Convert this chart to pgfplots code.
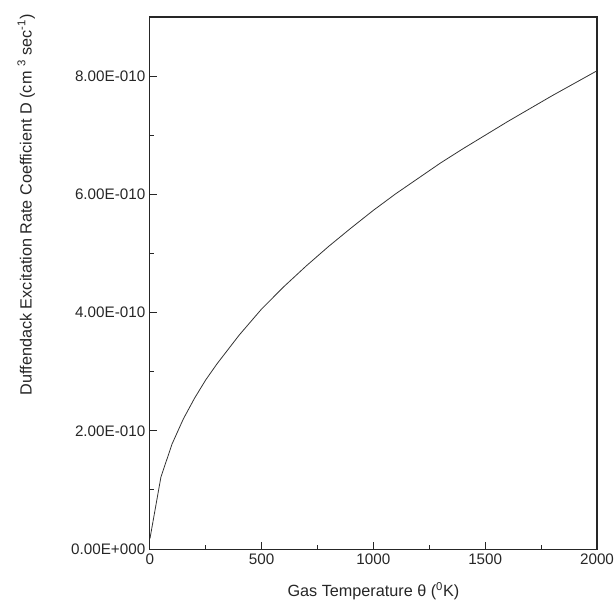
\documentclass[border=0pt]{standalone}
\usepackage{fontspec}
\setmainfont{Liberation Sans}
\usepackage{pgfplots}
\pgfplotsset{compat=1.18}
\begin{document}
\begin{tikzpicture}
\begin{axis}[
  name=ax,
  scale only axis,
  width=448bp, height=533bp,
  xmin=0, xmax=2000, ymin=0, ymax=9e-10,
  xtick={0,500,1000,1500,2000},
  xticklabels={0,500,1000,1500,2000},
  ytick={0,2e-10,4e-10,6e-10,8e-10},
  yticklabels={0.00E+000,2.00E-010,4.00E-010,6.00E-010,8.00E-010},
  scaled y ticks=false,
  minor x tick num=1, minor y tick num=1,
  xtick pos=bottom, ytick pos=left,
  tick align=inside,
  major tick length=7bp, minor tick length=4bp,
  axis line style={line width=1.1pt, black!85},
  tick style={line width=1pt, black!85},
  ticklabel style={font=\fontsize{15.3}{17}\selectfont, text=black!85},
  yticklabel style={xshift=-1bp},
  xticklabel style={yshift=-1bp},
  xlabel={Gas Temperature θ (\textsuperscript{0}K)},
  ylabel={Duffendack Excitation Rate Coefficient D (cm \textsuperscript{3} sec\textsuperscript{-1})},
  label style={font=\fontsize{16.3}{18}\selectfont, text=black!85},
  xlabel style={at={(axis description cs:0.5,0)}, anchor=north, yshift=-30bp},
  ylabel style={at={(axis description cs:-0.276,0.647)}, anchor=center},
]
\addplot[line width=0.8pt, black!80] coordinates {
(1,0.18e-10) (50,1.22e-10) (100,1.78e-10) (150,2.2e-10) (200,2.55e-10)
(250,2.86e-10) (300,3.13e-10) (400,3.62e-10) (500,4.06e-10) (600,4.44e-10)
(700,4.79e-10) (800,5.12e-10) (900,5.43e-10) (1000,5.73e-10) (1100,6.01e-10)
(1200,6.27e-10) (1300,6.53e-10) (1400,6.77e-10) (1500,7.0e-10) (1600,7.23e-10)
(1700,7.45e-10) (1800,7.67e-10) (1900,7.88e-10) (2000,8.09e-10)
};
\end{axis}
\pgfresetboundingbox
\useasboundingbox ([shift={(-150bp,-63bp)}]ax.south west) rectangle ([shift={(17bp,17bp)}]ax.north east);
\end{tikzpicture}
\end{document}
